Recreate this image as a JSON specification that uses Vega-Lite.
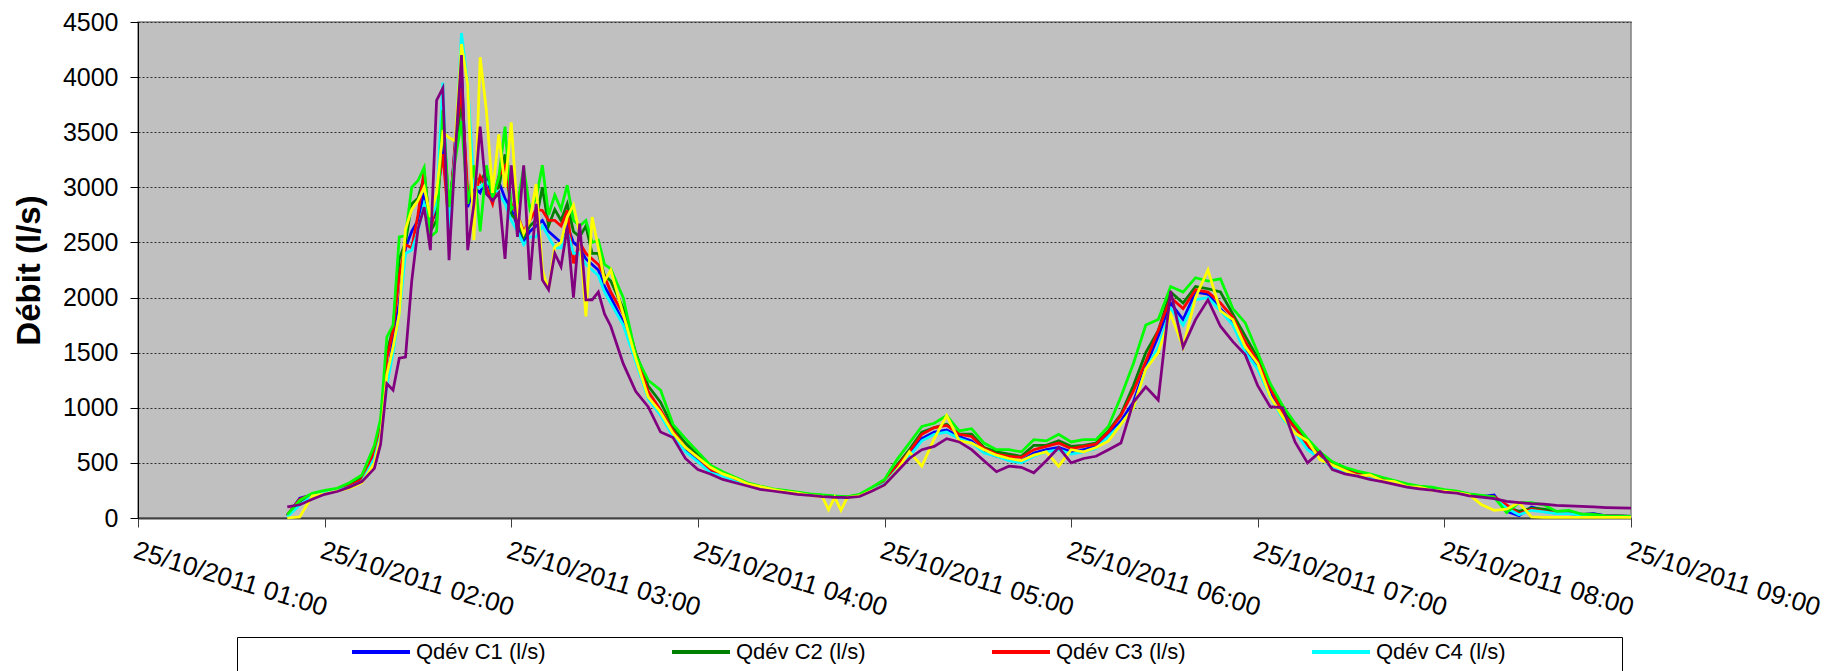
{
"$schema": "https://vega.github.io/schema/vega-lite/v6.json",
"width": 1493, "height": 496,
"autosize": {"type": "none"},
"padding": {"left": 138, "top": 22, "right": 202, "bottom": 153},
"background": "white",
"config": {"font": "Liberation Sans", "view": {"fill": "#C0C0C0", "stroke": "#808080", "strokeWidth": 1.5}},
"data": {"values": [
{"m":108,"c":"C1","v":20},{"m":108,"c":"C2","v":20},{"m":108,"c":"C3","v":30},{"m":108,"c":"C4","v":10},{"m":108,"c":"C5","v":30},{"m":108,"c":"C6","v":0},{"m":108,"c":"C7","v":100},
{"m":112,"c":"C1","v":180},{"m":112,"c":"C2","v":150},{"m":112,"c":"C3","v":170},{"m":112,"c":"C4","v":120},{"m":112,"c":"C5","v":160},{"m":112,"c":"C6","v":10},{"m":112,"c":"C7","v":120},
{"m":116,"c":"C1","v":210},{"m":116,"c":"C2","v":215},{"m":116,"c":"C3","v":215},{"m":116,"c":"C4","v":200},{"m":116,"c":"C5","v":225},{"m":116,"c":"C6","v":200},{"m":116,"c":"C7","v":170},
{"m":120,"c":"C1","v":235},{"m":120,"c":"C2","v":240},{"m":120,"c":"C3","v":240},{"m":120,"c":"C4","v":230},{"m":120,"c":"C5","v":250},{"m":120,"c":"C6","v":220},{"m":120,"c":"C7","v":215},
{"m":124,"c":"C1","v":250},{"m":124,"c":"C2","v":260},{"m":124,"c":"C3","v":255},{"m":124,"c":"C4","v":250},{"m":124,"c":"C5","v":270},{"m":124,"c":"C6","v":245},{"m":124,"c":"C7","v":240},
{"m":128,"c":"C1","v":285},{"m":128,"c":"C2","v":300},{"m":128,"c":"C3","v":290},{"m":128,"c":"C4","v":280},{"m":128,"c":"C5","v":320},{"m":128,"c":"C6","v":270},{"m":128,"c":"C7","v":280},
{"m":132,"c":"C1","v":340},{"m":132,"c":"C2","v":370},{"m":132,"c":"C3","v":350},{"m":132,"c":"C4","v":330},{"m":132,"c":"C5","v":390},{"m":132,"c":"C6","v":320},{"m":132,"c":"C7","v":330},
{"m":136,"c":"C1","v":560},{"m":136,"c":"C2","v":620},{"m":136,"c":"C3","v":600},{"m":136,"c":"C4","v":540},{"m":136,"c":"C5","v":660},{"m":136,"c":"C6","v":500},{"m":136,"c":"C7","v":450},
{"m":138,"c":"C1","v":780},{"m":138,"c":"C2","v":860},{"m":138,"c":"C3","v":830},{"m":138,"c":"C4","v":750},{"m":138,"c":"C5","v":900},{"m":138,"c":"C6","v":720},{"m":138,"c":"C7","v":670},
{"m":140,"c":"C1","v":1250},{"m":140,"c":"C2","v":1500},{"m":140,"c":"C3","v":1450},{"m":140,"c":"C4","v":1200},{"m":140,"c":"C5","v":1640},{"m":140,"c":"C6","v":1300},{"m":140,"c":"C7","v":1220},
{"m":142,"c":"C1","v":1620},{"m":142,"c":"C2","v":1720},{"m":142,"c":"C3","v":1700},{"m":142,"c":"C4","v":1500},{"m":142,"c":"C5","v":1750},{"m":142,"c":"C6","v":1550},{"m":142,"c":"C7","v":1160},
{"m":144,"c":"C1","v":1950},{"m":144,"c":"C2","v":2350},{"m":144,"c":"C3","v":2200},{"m":144,"c":"C4","v":1850},{"m":144,"c":"C5","v":2550},{"m":144,"c":"C6","v":1850},{"m":144,"c":"C7","v":1450},
{"m":146,"c":"C1","v":2450},{"m":146,"c":"C2","v":2500},{"m":146,"c":"C3","v":2480},{"m":146,"c":"C4","v":2400},{"m":146,"c":"C5","v":2560},{"m":146,"c":"C6","v":2620},{"m":146,"c":"C7","v":1460},
{"m":148,"c":"C1","v":2600},{"m":148,"c":"C2","v":2850},{"m":148,"c":"C3","v":2450},{"m":148,"c":"C4","v":2430},{"m":148,"c":"C5","v":3000},{"m":148,"c":"C6","v":2800},{"m":148,"c":"C7","v":2150},
{"m":150,"c":"C1","v":2700},{"m":150,"c":"C2","v":2900},{"m":150,"c":"C3","v":2750},{"m":150,"c":"C4","v":2600},{"m":150,"c":"C5","v":3060},{"m":150,"c":"C6","v":2880},{"m":150,"c":"C7","v":2620},
{"m":152,"c":"C1","v":2950},{"m":152,"c":"C2","v":3100},{"m":152,"c":"C3","v":3150},{"m":152,"c":"C4","v":2850},{"m":152,"c":"C5","v":3180},{"m":152,"c":"C6","v":3000},{"m":152,"c":"C7","v":2820},
{"m":154,"c":"C1","v":2650},{"m":154,"c":"C2","v":2600},{"m":154,"c":"C3","v":2600},{"m":154,"c":"C4","v":2700},{"m":154,"c":"C5","v":2550},{"m":154,"c":"C6","v":2730},{"m":154,"c":"C7","v":2430},
{"m":156,"c":"C1","v":2800},{"m":156,"c":"C2","v":2700},{"m":156,"c":"C3","v":2900},{"m":156,"c":"C4","v":2850},{"m":156,"c":"C5","v":2600},{"m":156,"c":"C6","v":2950},{"m":156,"c":"C7","v":3790},
{"m":158,"c":"C1","v":3400},{"m":158,"c":"C2","v":3650},{"m":158,"c":"C3","v":3300},{"m":158,"c":"C4","v":3950},{"m":158,"c":"C5","v":3700},{"m":158,"c":"C6","v":3500},{"m":158,"c":"C7","v":3900},
{"m":160,"c":"C1","v":2700},{"m":160,"c":"C2","v":2800},{"m":160,"c":"C3","v":2650},{"m":160,"c":"C4","v":2600},{"m":160,"c":"C5","v":2820},{"m":160,"c":"C6","v":3450},{"m":160,"c":"C7","v":2340},
{"m":162,"c":"C1","v":3400},{"m":162,"c":"C2","v":3300},{"m":162,"c":"C3","v":3430},{"m":162,"c":"C4","v":3350},{"m":162,"c":"C5","v":3250},{"m":162,"c":"C6","v":3420},{"m":162,"c":"C7","v":3310},
{"m":164,"c":"C1","v":4050},{"m":164,"c":"C2","v":3800},{"m":164,"c":"C3","v":3900},{"m":164,"c":"C4","v":4400},{"m":164,"c":"C5","v":3600},{"m":164,"c":"C6","v":4300},{"m":164,"c":"C7","v":4200},
{"m":166,"c":"C1","v":2820},{"m":166,"c":"C2","v":2850},{"m":166,"c":"C3","v":2950},{"m":166,"c":"C4","v":3940},{"m":166,"c":"C5","v":2850},{"m":166,"c":"C6","v":3930},{"m":166,"c":"C7","v":2430},
{"m":168,"c":"C1","v":3000},{"m":168,"c":"C2","v":3100},{"m":168,"c":"C3","v":2900},{"m":168,"c":"C4","v":3000},{"m":168,"c":"C5","v":3200},{"m":168,"c":"C6","v":2520},{"m":168,"c":"C7","v":2850},
{"m":170,"c":"C1","v":2950},{"m":170,"c":"C2","v":3050},{"m":170,"c":"C3","v":3100},{"m":170,"c":"C4","v":3000},{"m":170,"c":"C5","v":2600},{"m":170,"c":"C6","v":4180},{"m":170,"c":"C7","v":3550},
{"m":172,"c":"C1","v":3100},{"m":172,"c":"C2","v":3150},{"m":172,"c":"C3","v":3000},{"m":172,"c":"C4","v":3050},{"m":172,"c":"C5","v":3200},{"m":172,"c":"C6","v":3700},{"m":172,"c":"C7","v":2940},
{"m":174,"c":"C1","v":2900},{"m":174,"c":"C2","v":2950},{"m":174,"c":"C3","v":2850},{"m":174,"c":"C4","v":3000},{"m":174,"c":"C5","v":2900},{"m":174,"c":"C6","v":2950},{"m":174,"c":"C7","v":2880},
{"m":176,"c":"C1","v":3050},{"m":176,"c":"C2","v":3000},{"m":176,"c":"C3","v":3100},{"m":176,"c":"C4","v":2950},{"m":176,"c":"C5","v":3090},{"m":176,"c":"C6","v":3480},{"m":176,"c":"C7","v":2950},
{"m":178,"c":"C1","v":2900},{"m":178,"c":"C2","v":3300},{"m":178,"c":"C3","v":3190},{"m":178,"c":"C4","v":2850},{"m":178,"c":"C5","v":3550},{"m":178,"c":"C6","v":3000},{"m":178,"c":"C7","v":2350},
{"m":180,"c":"C1","v":2800},{"m":180,"c":"C2","v":2750},{"m":180,"c":"C3","v":2850},{"m":180,"c":"C4","v":2700},{"m":180,"c":"C5","v":2800},{"m":180,"c":"C6","v":3590},{"m":180,"c":"C7","v":3200},
{"m":182,"c":"C1","v":2650},{"m":182,"c":"C2","v":2700},{"m":182,"c":"C3","v":2750},{"m":182,"c":"C4","v":2600},{"m":182,"c":"C5","v":2850},{"m":182,"c":"C6","v":2750},{"m":182,"c":"C7","v":2550},
{"m":184,"c":"C1","v":2500},{"m":184,"c":"C2","v":2550},{"m":184,"c":"C3","v":2600},{"m":184,"c":"C4","v":2480},{"m":184,"c":"C5","v":3180},{"m":184,"c":"C6","v":2580},{"m":184,"c":"C7","v":3200},
{"m":186,"c":"C1","v":2600},{"m":186,"c":"C2","v":2650},{"m":186,"c":"C3","v":2700},{"m":186,"c":"C4","v":2550},{"m":186,"c":"C5","v":2800},{"m":186,"c":"C6","v":2700},{"m":186,"c":"C7","v":2160},
{"m":188,"c":"C1","v":2650},{"m":188,"c":"C2","v":2700},{"m":188,"c":"C3","v":2800},{"m":188,"c":"C4","v":2550},{"m":188,"c":"C5","v":2900},{"m":188,"c":"C6","v":3030},{"m":188,"c":"C7","v":2850},
{"m":190,"c":"C1","v":2700},{"m":190,"c":"C2","v":3000},{"m":190,"c":"C3","v":2790},{"m":190,"c":"C4","v":2650},{"m":190,"c":"C5","v":3200},{"m":190,"c":"C6","v":2250},{"m":190,"c":"C7","v":2160},
{"m":192,"c":"C1","v":2600},{"m":192,"c":"C2","v":2650},{"m":192,"c":"C3","v":2700},{"m":192,"c":"C4","v":2550},{"m":192,"c":"C5","v":2750},{"m":192,"c":"C6","v":2070},{"m":192,"c":"C7","v":2070},
{"m":194,"c":"C1","v":2550},{"m":194,"c":"C2","v":2800},{"m":194,"c":"C3","v":2700},{"m":194,"c":"C4","v":2450},{"m":194,"c":"C5","v":2930},{"m":194,"c":"C6","v":2460},{"m":194,"c":"C7","v":2400},
{"m":196,"c":"C1","v":2500},{"m":196,"c":"C2","v":2700},{"m":196,"c":"C3","v":2650},{"m":196,"c":"C4","v":2450},{"m":196,"c":"C5","v":2800},{"m":196,"c":"C6","v":2500},{"m":196,"c":"C7","v":2280},
{"m":198,"c":"C1","v":2650},{"m":198,"c":"C2","v":2850},{"m":198,"c":"C3","v":2790},{"m":198,"c":"C4","v":2600},{"m":198,"c":"C5","v":3020},{"m":198,"c":"C6","v":2730},{"m":198,"c":"C7","v":2640},
{"m":200,"c":"C1","v":2500},{"m":200,"c":"C2","v":2600},{"m":200,"c":"C3","v":2310},{"m":200,"c":"C4","v":2400},{"m":200,"c":"C5","v":2700},{"m":200,"c":"C6","v":2840},{"m":200,"c":"C7","v":2000},
{"m":202,"c":"C1","v":2450},{"m":202,"c":"C2","v":2550},{"m":202,"c":"C3","v":2500},{"m":202,"c":"C4","v":2400},{"m":202,"c":"C5","v":2650},{"m":202,"c":"C6","v":2580},{"m":202,"c":"C7","v":2670},
{"m":204,"c":"C1","v":2350},{"m":204,"c":"C2","v":2650},{"m":204,"c":"C3","v":2400},{"m":204,"c":"C4","v":2300},{"m":204,"c":"C5","v":2700},{"m":204,"c":"C6","v":1830},{"m":204,"c":"C7","v":1980},
{"m":206,"c":"C1","v":2300},{"m":206,"c":"C2","v":2400},{"m":206,"c":"C3","v":2350},{"m":206,"c":"C4","v":2250},{"m":206,"c":"C5","v":2500},{"m":206,"c":"C6","v":2730},{"m":206,"c":"C7","v":1980},
{"m":208,"c":"C1","v":2250},{"m":208,"c":"C2","v":2400},{"m":208,"c":"C3","v":2300},{"m":208,"c":"C4","v":2200},{"m":208,"c":"C5","v":2520},{"m":208,"c":"C6","v":2450},{"m":208,"c":"C7","v":2050},
{"m":210,"c":"C1","v":2100},{"m":210,"c":"C2","v":2200},{"m":210,"c":"C3","v":2190},{"m":210,"c":"C4","v":2050},{"m":210,"c":"C5","v":2300},{"m":210,"c":"C6","v":2150},{"m":210,"c":"C7","v":1850},
{"m":212,"c":"C1","v":2000},{"m":212,"c":"C2","v":2150},{"m":212,"c":"C3","v":2050},{"m":212,"c":"C4","v":1950},{"m":212,"c":"C5","v":2260},{"m":212,"c":"C6","v":2250},{"m":212,"c":"C7","v":1740},
{"m":216,"c":"C1","v":1780},{"m":216,"c":"C2","v":1900},{"m":216,"c":"C3","v":1850},{"m":216,"c":"C4","v":1750},{"m":216,"c":"C5","v":2000},{"m":216,"c":"C6","v":1850},{"m":216,"c":"C7","v":1400},
{"m":220,"c":"C1","v":1450},{"m":220,"c":"C2","v":1500},{"m":220,"c":"C3","v":1480},{"m":220,"c":"C4","v":1420},{"m":220,"c":"C5","v":1480},{"m":220,"c":"C6","v":1450},{"m":220,"c":"C7","v":1150},
{"m":224,"c":"C1","v":1100},{"m":224,"c":"C2","v":1200},{"m":224,"c":"C3","v":1150},{"m":224,"c":"C4","v":1080},{"m":224,"c":"C5","v":1250},{"m":224,"c":"C6","v":1100},{"m":224,"c":"C7","v":1010},
{"m":228,"c":"C1","v":950},{"m":228,"c":"C2","v":1050},{"m":228,"c":"C3","v":980},{"m":228,"c":"C4","v":930},{"m":228,"c":"C5","v":1160},{"m":228,"c":"C6","v":960},{"m":228,"c":"C7","v":780},
{"m":232,"c":"C1","v":760},{"m":232,"c":"C2","v":820},{"m":232,"c":"C3","v":790},{"m":232,"c":"C4","v":740},{"m":232,"c":"C5","v":850},{"m":232,"c":"C6","v":770},{"m":232,"c":"C7","v":730},
{"m":236,"c":"C1","v":620},{"m":236,"c":"C2","v":680},{"m":236,"c":"C3","v":640},{"m":236,"c":"C4","v":600},{"m":236,"c":"C5","v":720},{"m":236,"c":"C6","v":640},{"m":236,"c":"C7","v":540},
{"m":240,"c":"C1","v":530},{"m":240,"c":"C2","v":570},{"m":240,"c":"C3","v":550},{"m":240,"c":"C4","v":510},{"m":240,"c":"C5","v":600},{"m":240,"c":"C6","v":550},{"m":240,"c":"C7","v":440},
{"m":244,"c":"C1","v":430},{"m":244,"c":"C2","v":460},{"m":244,"c":"C3","v":440},{"m":244,"c":"C4","v":410},{"m":244,"c":"C5","v":480},{"m":244,"c":"C6","v":460},{"m":244,"c":"C7","v":400},
{"m":248,"c":"C1","v":390},{"m":248,"c":"C2","v":410},{"m":248,"c":"C3","v":400},{"m":248,"c":"C4","v":380},{"m":248,"c":"C5","v":420},{"m":248,"c":"C6","v":400},{"m":248,"c":"C7","v":350},
{"m":252,"c":"C1","v":340},{"m":252,"c":"C2","v":350},{"m":252,"c":"C3","v":345},{"m":252,"c":"C4","v":330},{"m":252,"c":"C5","v":370},{"m":252,"c":"C6","v":360},{"m":252,"c":"C7","v":320},
{"m":256,"c":"C1","v":300},{"m":256,"c":"C2","v":310},{"m":256,"c":"C3","v":305},{"m":256,"c":"C4","v":295},{"m":256,"c":"C5","v":320},{"m":256,"c":"C6","v":310},{"m":256,"c":"C7","v":290},
{"m":260,"c":"C1","v":275},{"m":260,"c":"C2","v":285},{"m":260,"c":"C3","v":280},{"m":260,"c":"C4","v":270},{"m":260,"c":"C5","v":290},{"m":260,"c":"C6","v":285},{"m":260,"c":"C7","v":260},
{"m":264,"c":"C1","v":255},{"m":264,"c":"C2","v":260},{"m":264,"c":"C3","v":258},{"m":264,"c":"C4","v":250},{"m":264,"c":"C5","v":265},{"m":264,"c":"C6","v":260},{"m":264,"c":"C7","v":245},
{"m":268,"c":"C1","v":240},{"m":268,"c":"C2","v":245},{"m":268,"c":"C3","v":242},{"m":268,"c":"C4","v":235},{"m":268,"c":"C5","v":250},{"m":268,"c":"C6","v":240},{"m":268,"c":"C7","v":230},
{"m":272,"c":"C1","v":225},{"m":272,"c":"C2","v":230},{"m":272,"c":"C3","v":228},{"m":272,"c":"C4","v":222},{"m":272,"c":"C5","v":235},{"m":272,"c":"C6","v":225},{"m":272,"c":"C7","v":215},
{"m":276,"c":"C1","v":212},{"m":276,"c":"C2","v":215},{"m":276,"c":"C3","v":214},{"m":276,"c":"C4","v":210},{"m":276,"c":"C5","v":220},{"m":276,"c":"C6","v":205},{"m":276,"c":"C7","v":205},
{"m":280,"c":"C1","v":200},{"m":280,"c":"C2","v":205},{"m":280,"c":"C3","v":202},{"m":280,"c":"C4","v":198},{"m":280,"c":"C5","v":210},{"m":280,"c":"C6","v":195},{"m":280,"c":"C7","v":195},
{"m":282,"c":"C1","v":196},{"m":282,"c":"C2","v":200},{"m":282,"c":"C3","v":198},{"m":282,"c":"C4","v":194},{"m":282,"c":"C5","v":205},{"m":282,"c":"C6","v":75},{"m":282,"c":"C7","v":192},
{"m":284,"c":"C1","v":192},{"m":284,"c":"C2","v":195},{"m":284,"c":"C3","v":194},{"m":284,"c":"C4","v":190},{"m":284,"c":"C5","v":200},{"m":284,"c":"C6","v":190},{"m":284,"c":"C7","v":188},
{"m":286,"c":"C1","v":190},{"m":286,"c":"C2","v":192},{"m":286,"c":"C3","v":191},{"m":286,"c":"C4","v":187},{"m":286,"c":"C5","v":197},{"m":286,"c":"C6","v":70},{"m":286,"c":"C7","v":186},
{"m":288,"c":"C1","v":188},{"m":288,"c":"C2","v":190},{"m":288,"c":"C3","v":189},{"m":288,"c":"C4","v":185},{"m":288,"c":"C5","v":195},{"m":288,"c":"C6","v":185},{"m":288,"c":"C7","v":184},
{"m":292,"c":"C1","v":205},{"m":292,"c":"C2","v":210},{"m":292,"c":"C3","v":207},{"m":292,"c":"C4","v":200},{"m":292,"c":"C5","v":215},{"m":292,"c":"C6","v":200},{"m":292,"c":"C7","v":195},
{"m":296,"c":"C1","v":260},{"m":296,"c":"C2","v":270},{"m":296,"c":"C3","v":265},{"m":296,"c":"C4","v":255},{"m":296,"c":"C5","v":280},{"m":296,"c":"C6","v":250},{"m":296,"c":"C7","v":245},
{"m":300,"c":"C1","v":320},{"m":300,"c":"C2","v":330},{"m":300,"c":"C3","v":325},{"m":300,"c":"C4","v":310},{"m":300,"c":"C5","v":350},{"m":300,"c":"C6","v":300},{"m":300,"c":"C7","v":300},
{"m":304,"c":"C1","v":450},{"m":304,"c":"C2","v":480},{"m":304,"c":"C3","v":470},{"m":304,"c":"C4","v":440},{"m":304,"c":"C5","v":530},{"m":304,"c":"C6","v":430},{"m":304,"c":"C7","v":420},
{"m":308,"c":"C1","v":580},{"m":308,"c":"C2","v":620},{"m":308,"c":"C3","v":600},{"m":308,"c":"C4","v":560},{"m":308,"c":"C5","v":680},{"m":308,"c":"C6","v":600},{"m":308,"c":"C7","v":540},
{"m":312,"c":"C1","v":720},{"m":312,"c":"C2","v":780},{"m":312,"c":"C3","v":760},{"m":312,"c":"C4","v":700},{"m":312,"c":"C5","v":830},{"m":312,"c":"C6","v":470},{"m":312,"c":"C7","v":620},
{"m":316,"c":"C1","v":780},{"m":316,"c":"C2","v":820},{"m":316,"c":"C3","v":820},{"m":316,"c":"C4","v":760},{"m":316,"c":"C5","v":860},{"m":316,"c":"C6","v":720},{"m":316,"c":"C7","v":650},
{"m":320,"c":"C1","v":800},{"m":320,"c":"C2","v":850},{"m":320,"c":"C3","v":840},{"m":320,"c":"C4","v":780},{"m":320,"c":"C5","v":930},{"m":320,"c":"C6","v":930},{"m":320,"c":"C7","v":720},
{"m":324,"c":"C1","v":740},{"m":324,"c":"C2","v":760},{"m":324,"c":"C3","v":760},{"m":324,"c":"C4","v":720},{"m":324,"c":"C5","v":790},{"m":324,"c":"C6","v":700},{"m":324,"c":"C7","v":690},
{"m":328,"c":"C1","v":700},{"m":328,"c":"C2","v":760},{"m":328,"c":"C3","v":740},{"m":328,"c":"C4","v":680},{"m":328,"c":"C5","v":810},{"m":328,"c":"C6","v":680},{"m":328,"c":"C7","v":620},
{"m":332,"c":"C1","v":600},{"m":332,"c":"C2","v":640},{"m":332,"c":"C3","v":630},{"m":332,"c":"C4","v":590},{"m":332,"c":"C5","v":680},{"m":332,"c":"C6","v":620},{"m":332,"c":"C7","v":520},
{"m":336,"c":"C1","v":560},{"m":336,"c":"C2","v":600},{"m":336,"c":"C3","v":580},{"m":336,"c":"C4","v":560},{"m":336,"c":"C5","v":620},{"m":336,"c":"C6","v":570},{"m":336,"c":"C7","v":420},
{"m":340,"c":"C1","v":540},{"m":340,"c":"C2","v":580},{"m":340,"c":"C3","v":560},{"m":340,"c":"C4","v":520},{"m":340,"c":"C5","v":620},{"m":340,"c":"C6","v":540},{"m":340,"c":"C7","v":470},
{"m":344,"c":"C1","v":520},{"m":344,"c":"C2","v":560},{"m":344,"c":"C3","v":550},{"m":344,"c":"C4","v":500},{"m":344,"c":"C5","v":600},{"m":344,"c":"C6","v":520},{"m":344,"c":"C7","v":460},
{"m":348,"c":"C1","v":590},{"m":348,"c":"C2","v":660},{"m":348,"c":"C3","v":620},{"m":348,"c":"C4","v":560},{"m":348,"c":"C5","v":710},{"m":348,"c":"C6","v":570},{"m":348,"c":"C7","v":410},
{"m":352,"c":"C1","v":620},{"m":352,"c":"C2","v":660},{"m":352,"c":"C3","v":650},{"m":352,"c":"C4","v":600},{"m":352,"c":"C5","v":700},{"m":352,"c":"C6","v":600},{"m":352,"c":"C7","v":520},
{"m":356,"c":"C1","v":640},{"m":356,"c":"C2","v":700},{"m":356,"c":"C3","v":680},{"m":356,"c":"C4","v":620},{"m":356,"c":"C5","v":760},{"m":356,"c":"C6","v":470},{"m":356,"c":"C7","v":640},
{"m":360,"c":"C1","v":600},{"m":360,"c":"C2","v":650},{"m":360,"c":"C3","v":630},{"m":360,"c":"C4","v":580},{"m":360,"c":"C5","v":690},{"m":360,"c":"C6","v":620},{"m":360,"c":"C7","v":500},
{"m":364,"c":"C1","v":620},{"m":364,"c":"C2","v":660},{"m":364,"c":"C3","v":650},{"m":364,"c":"C4","v":600},{"m":364,"c":"C5","v":710},{"m":364,"c":"C6","v":600},{"m":364,"c":"C7","v":540},
{"m":368,"c":"C1","v":650},{"m":368,"c":"C2","v":680},{"m":368,"c":"C3","v":670},{"m":368,"c":"C4","v":630},{"m":368,"c":"C5","v":710},{"m":368,"c":"C6","v":640},{"m":368,"c":"C7","v":560},
{"m":372,"c":"C1","v":760},{"m":372,"c":"C2","v":790},{"m":372,"c":"C3","v":780},{"m":372,"c":"C4","v":740},{"m":372,"c":"C5","v":830},{"m":372,"c":"C6","v":700},{"m":372,"c":"C7","v":620},
{"m":376,"c":"C1","v":880},{"m":376,"c":"C2","v":940},{"m":376,"c":"C3","v":930},{"m":376,"c":"C4","v":850},{"m":376,"c":"C5","v":1100},{"m":376,"c":"C6","v":850},{"m":376,"c":"C7","v":680},
{"m":380,"c":"C1","v":1050},{"m":380,"c":"C2","v":1200},{"m":380,"c":"C3","v":1150},{"m":380,"c":"C4","v":1000},{"m":380,"c":"C5","v":1400},{"m":380,"c":"C6","v":1000},{"m":380,"c":"C7","v":1050},
{"m":384,"c":"C1","v":1380},{"m":384,"c":"C2","v":1500},{"m":384,"c":"C3","v":1420},{"m":384,"c":"C4","v":1350},{"m":384,"c":"C5","v":1750},{"m":384,"c":"C6","v":1350},{"m":384,"c":"C7","v":1190},
{"m":388,"c":"C1","v":1650},{"m":388,"c":"C2","v":1700},{"m":388,"c":"C3","v":1700},{"m":388,"c":"C4","v":1550},{"m":388,"c":"C5","v":1800},{"m":388,"c":"C6","v":1500},{"m":388,"c":"C7","v":1070},
{"m":392,"c":"C1","v":1950},{"m":392,"c":"C2","v":2050},{"m":392,"c":"C3","v":2000},{"m":392,"c":"C4","v":1900},{"m":392,"c":"C5","v":2100},{"m":392,"c":"C6","v":1850},{"m":392,"c":"C7","v":2060},
{"m":396,"c":"C1","v":1800},{"m":396,"c":"C2","v":1950},{"m":396,"c":"C3","v":1900},{"m":396,"c":"C4","v":1750},{"m":396,"c":"C5","v":2050},{"m":396,"c":"C6","v":1550},{"m":396,"c":"C7","v":1550},
{"m":400,"c":"C1","v":2050},{"m":400,"c":"C2","v":2100},{"m":400,"c":"C3","v":2070},{"m":400,"c":"C4","v":1980},{"m":400,"c":"C5","v":2180},{"m":400,"c":"C6","v":2000},{"m":400,"c":"C7","v":1800},
{"m":404,"c":"C1","v":2030},{"m":404,"c":"C2","v":2080},{"m":404,"c":"C3","v":2050},{"m":404,"c":"C4","v":2000},{"m":404,"c":"C5","v":2150},{"m":404,"c":"C6","v":2250},{"m":404,"c":"C7","v":1980},
{"m":408,"c":"C1","v":1900},{"m":408,"c":"C2","v":2050},{"m":408,"c":"C3","v":1950},{"m":408,"c":"C4","v":1880},{"m":408,"c":"C5","v":2170},{"m":408,"c":"C6","v":1880},{"m":408,"c":"C7","v":1740},
{"m":412,"c":"C1","v":1780},{"m":412,"c":"C2","v":1850},{"m":412,"c":"C3","v":1820},{"m":412,"c":"C4","v":1750},{"m":412,"c":"C5","v":1900},{"m":412,"c":"C6","v":1800},{"m":412,"c":"C7","v":1600},
{"m":416,"c":"C1","v":1530},{"m":416,"c":"C2","v":1650},{"m":416,"c":"C3","v":1600},{"m":416,"c":"C4","v":1500},{"m":416,"c":"C5","v":1770},{"m":416,"c":"C6","v":1550},{"m":416,"c":"C7","v":1480},
{"m":420,"c":"C1","v":1380},{"m":420,"c":"C2","v":1450},{"m":420,"c":"C3","v":1420},{"m":420,"c":"C4","v":1350},{"m":420,"c":"C5","v":1500},{"m":420,"c":"C6","v":1400},{"m":420,"c":"C7","v":1200},
{"m":424,"c":"C1","v":1150},{"m":424,"c":"C2","v":1200},{"m":424,"c":"C3","v":1180},{"m":424,"c":"C4","v":1100},{"m":424,"c":"C5","v":1220},{"m":424,"c":"C6","v":1100},{"m":424,"c":"C7","v":1010},
{"m":428,"c":"C1","v":930},{"m":428,"c":"C2","v":980},{"m":428,"c":"C3","v":950},{"m":428,"c":"C4","v":900},{"m":428,"c":"C5","v":1020},{"m":428,"c":"C6","v":920},{"m":428,"c":"C7","v":1000},
{"m":432,"c":"C1","v":800},{"m":432,"c":"C2","v":830},{"m":432,"c":"C3","v":820},{"m":432,"c":"C4","v":780},{"m":432,"c":"C5","v":860},{"m":432,"c":"C6","v":770},{"m":432,"c":"C7","v":690},
{"m":436,"c":"C1","v":640},{"m":436,"c":"C2","v":680},{"m":436,"c":"C3","v":660},{"m":436,"c":"C4","v":620},{"m":436,"c":"C5","v":720},{"m":436,"c":"C6","v":700},{"m":436,"c":"C7","v":500},
{"m":440,"c":"C1","v":560},{"m":440,"c":"C2","v":580},{"m":440,"c":"C3","v":570},{"m":440,"c":"C4","v":540},{"m":440,"c":"C5","v":600},{"m":440,"c":"C6","v":530},{"m":440,"c":"C7","v":600},
{"m":444,"c":"C1","v":470},{"m":444,"c":"C2","v":490},{"m":444,"c":"C3","v":480},{"m":444,"c":"C4","v":460},{"m":444,"c":"C5","v":510},{"m":444,"c":"C6","v":480},{"m":444,"c":"C7","v":440},
{"m":448,"c":"C1","v":420},{"m":448,"c":"C2","v":440},{"m":448,"c":"C3","v":430},{"m":448,"c":"C4","v":410},{"m":448,"c":"C5","v":460},{"m":448,"c":"C6","v":430},{"m":448,"c":"C7","v":400},
{"m":452,"c":"C1","v":395},{"m":452,"c":"C2","v":410},{"m":452,"c":"C3","v":400},{"m":452,"c":"C4","v":385},{"m":452,"c":"C5","v":425},{"m":452,"c":"C6","v":380},{"m":452,"c":"C7","v":380},
{"m":456,"c":"C1","v":370},{"m":456,"c":"C2","v":385},{"m":456,"c":"C3","v":375},{"m":456,"c":"C4","v":360},{"m":456,"c":"C5","v":400},{"m":456,"c":"C6","v":390},{"m":456,"c":"C7","v":350},
{"m":460,"c":"C1","v":345},{"m":460,"c":"C2","v":355},{"m":460,"c":"C3","v":350},{"m":460,"c":"C4","v":340},{"m":460,"c":"C5","v":370},{"m":460,"c":"C6","v":340},{"m":460,"c":"C7","v":330},
{"m":464,"c":"C1","v":315},{"m":464,"c":"C2","v":325},{"m":464,"c":"C3","v":320},{"m":464,"c":"C4","v":310},{"m":464,"c":"C5","v":340},{"m":464,"c":"C6","v":330},{"m":464,"c":"C7","v":305},
{"m":468,"c":"C1","v":290},{"m":468,"c":"C2","v":300},{"m":468,"c":"C3","v":295},{"m":468,"c":"C4","v":285},{"m":468,"c":"C5","v":310},{"m":468,"c":"C6","v":285},{"m":468,"c":"C7","v":280},
{"m":472,"c":"C1","v":275},{"m":472,"c":"C2","v":280},{"m":472,"c":"C3","v":278},{"m":472,"c":"C4","v":270},{"m":472,"c":"C5","v":290},{"m":472,"c":"C6","v":280},{"m":472,"c":"C7","v":265},
{"m":476,"c":"C1","v":262},{"m":476,"c":"C2","v":268},{"m":476,"c":"C3","v":265},{"m":476,"c":"C4","v":258},{"m":476,"c":"C5","v":280},{"m":476,"c":"C6","v":250},{"m":476,"c":"C7","v":252},
{"m":480,"c":"C1","v":245},{"m":480,"c":"C2","v":250},{"m":480,"c":"C3","v":248},{"m":480,"c":"C4","v":240},{"m":480,"c":"C5","v":258},{"m":480,"c":"C6","v":245},{"m":480,"c":"C7","v":235},
{"m":484,"c":"C1","v":235},{"m":484,"c":"C2","v":240},{"m":484,"c":"C3","v":238},{"m":484,"c":"C4","v":230},{"m":484,"c":"C5","v":245},{"m":484,"c":"C6","v":230},{"m":484,"c":"C7","v":225},
{"m":488,"c":"C1","v":210},{"m":488,"c":"C2","v":215},{"m":488,"c":"C3","v":212},{"m":488,"c":"C4","v":205},{"m":488,"c":"C5","v":220},{"m":488,"c":"C6","v":210},{"m":488,"c":"C7","v":200},
{"m":492,"c":"C1","v":195},{"m":492,"c":"C2","v":200},{"m":492,"c":"C3","v":198},{"m":492,"c":"C4","v":192},{"m":492,"c":"C5","v":205},{"m":492,"c":"C6","v":120},{"m":492,"c":"C7","v":190},
{"m":496,"c":"C1","v":210},{"m":496,"c":"C2","v":185},{"m":496,"c":"C3","v":195},{"m":496,"c":"C4","v":180},{"m":496,"c":"C5","v":190},{"m":496,"c":"C6","v":70},{"m":496,"c":"C7","v":175},
{"m":500,"c":"C1","v":60},{"m":500,"c":"C2","v":100},{"m":500,"c":"C3","v":120},{"m":500,"c":"C4","v":90},{"m":500,"c":"C5","v":50},{"m":500,"c":"C6","v":80},{"m":500,"c":"C7","v":150},
{"m":504,"c":"C1","v":20},{"m":504,"c":"C2","v":60},{"m":504,"c":"C3","v":40},{"m":504,"c":"C4","v":30},{"m":504,"c":"C5","v":140},{"m":504,"c":"C6","v":140},{"m":504,"c":"C7","v":140},
{"m":508,"c":"C1","v":100},{"m":508,"c":"C2","v":90},{"m":508,"c":"C3","v":80},{"m":508,"c":"C4","v":70},{"m":508,"c":"C5","v":140},{"m":508,"c":"C6","v":10},{"m":508,"c":"C7","v":130},
{"m":512,"c":"C1","v":70},{"m":512,"c":"C2","v":80},{"m":512,"c":"C3","v":60},{"m":512,"c":"C4","v":55},{"m":512,"c":"C5","v":120},{"m":512,"c":"C6","v":5},{"m":512,"c":"C7","v":125},
{"m":516,"c":"C1","v":50},{"m":516,"c":"C2","v":60},{"m":516,"c":"C3","v":45},{"m":516,"c":"C4","v":40},{"m":516,"c":"C5","v":60},{"m":516,"c":"C6","v":5},{"m":516,"c":"C7","v":115},
{"m":520,"c":"C1","v":60},{"m":520,"c":"C2","v":55},{"m":520,"c":"C3","v":40},{"m":520,"c":"C4","v":40},{"m":520,"c":"C5","v":70},{"m":520,"c":"C6","v":5},{"m":520,"c":"C7","v":110},
{"m":524,"c":"C1","v":30},{"m":524,"c":"C2","v":35},{"m":524,"c":"C3","v":30},{"m":524,"c":"C4","v":25},{"m":524,"c":"C5","v":35},{"m":524,"c":"C6","v":5},{"m":524,"c":"C7","v":105},
{"m":528,"c":"C1","v":40},{"m":528,"c":"C2","v":35},{"m":528,"c":"C3","v":25},{"m":528,"c":"C4","v":25},{"m":528,"c":"C5","v":30},{"m":528,"c":"C6","v":5},{"m":528,"c":"C7","v":100},
{"m":532,"c":"C1","v":20},{"m":532,"c":"C2","v":20},{"m":532,"c":"C3","v":20},{"m":532,"c":"C4","v":15},{"m":532,"c":"C5","v":20},{"m":532,"c":"C6","v":5},{"m":532,"c":"C7","v":95},
{"m":536,"c":"C1","v":20},{"m":536,"c":"C2","v":18},{"m":536,"c":"C3","v":18},{"m":536,"c":"C4","v":15},{"m":536,"c":"C5","v":18},{"m":536,"c":"C6","v":5},{"m":536,"c":"C7","v":92},
{"m":540,"c":"C1","v":15},{"m":540,"c":"C2","v":15},{"m":540,"c":"C3","v":15},{"m":540,"c":"C4","v":10},{"m":540,"c":"C5","v":15},{"m":540,"c":"C6","v":5},{"m":540,"c":"C7","v":90}
]},
"mark": {"type": "line", "strokeWidth": 2.75},
"encoding": {
"x": {"field": "m", "type": "quantitative",
 "scale": {"domain": [60, 540], "nice": false, "zero": false},
 "axis": {"title": null, "values": [60, 120, 180, 240, 300, 360, 420, 480, 540], "labelExpr": "'25/10/2011 0' + floor(datum.value / 60) + ':00'", "labelAngle": 17, "labelAlign": "left", "labelBaseline": "top", "labelFontSize": 26, "labelColor": "black", "labelLimit": 500, "labelOverlap": false, "labelFlush": false, "labelBound": false, "labelPadding": 10, "tickSize": 9, "tickColor": "#404040", "domainColor": "#404040", "domainWidth": 2, "grid": false}},
"y": {"field": "v", "type": "quantitative",
 "scale": {"domain": [0, 4500], "nice": false},
 "axis": {"title": "Débit (l/s)", "values": [0, 500, 1000, 1500, 2000, 2500, 3000, 3500, 4000, 4500], "format": "d", "labelFontSize": 25, "labelColor": "black", "labelPadding": 12, "titleFontSize": 33, "titleFontWeight": "bold", "titleColor": "black", "titlePadding": 16, "tickSize": 8, "tickColor": "black", "domainColor": "black", "grid": true, "gridColor": "#303030", "gridDash": [2, 2], "gridWidth": 1}},
"color": {"field": "c", "type": "nominal",
 "scale": {"domain": ["C1", "C2", "C3", "C4", "C5", "C6", "C7"], "range": ["#0000FF", "#008000", "#FF0000", "#00FFFF", "#00FF00", "#FFFF00", "#800080"]},
 "legend": {"orient": "none", "legendX": 99, "legendY": 615, "direction": "horizontal", "columns": 4, "title": " ", "titleOrient": "right", "titlePadding": 111, "titleFontSize": 22, "padding": 5, "strokeColor": "black", "fillColor": "white", "symbolType": "stroke", "symbolSize": 3364, "symbolStrokeWidth": 4, "symbolOffset": 108, "clipHeight": 20, "labelFontSize": 22, "labelColor": "black", "labelOffset": 4, "columnPadding": 16, "rowPadding": 40, "labelLimit": 600,
  "labelExpr": "'Qdév ' + datum.label + ' (l/s)'"}}
}
}
